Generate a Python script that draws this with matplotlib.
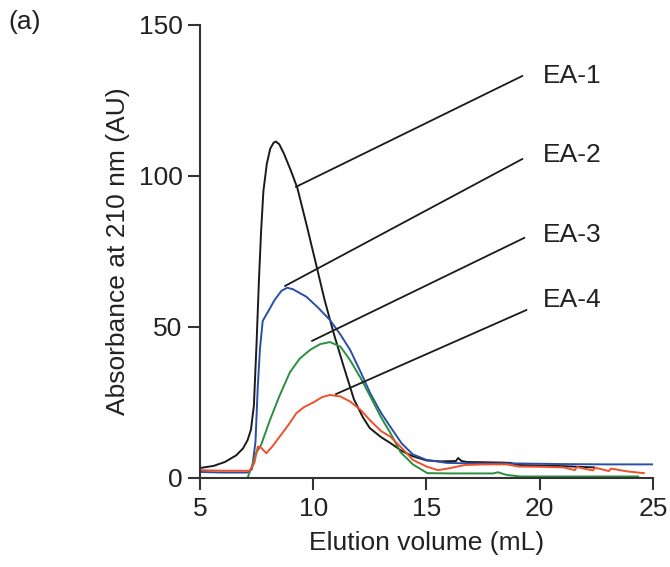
import matplotlib
matplotlib.use('Agg')
from matplotlib import pyplot as plt

plt.rcParams['font.family'] = ['Liberation Sans', 'DejaVu Sans']

# elution volume (mL) / absorbance (AU)
ea1_x = [5.0, 5.6, 6.1, 6.6, 6.9, 7.1, 7.25, 7.38, 7.5, 7.6, 7.7, 7.8, 7.95, 8.1, 8.25, 8.35, 8.5,
         8.7, 9.0, 9.3, 9.7, 10.15, 10.5, 10.9, 11.3, 11.8, 12.2, 12.5, 13.0, 13.4, 13.9, 14.4, 15.0,
         15.6, 16.3, 16.4, 16.55, 16.8, 17.6, 18.3, 18.7, 19.1, 20.1, 21.1, 22.4]
ea1_y = [3.3, 4.0, 5.3, 7.5, 9.8, 12.5, 16.0, 24.0, 45.0, 65.0, 82.0, 95.0, 104.0, 109.0, 111.0,
         111.4, 110.5, 107.5, 102.0, 96.0, 84.0, 70.0, 59.0, 48.0, 38.0, 26.0, 20.0, 16.5, 13.5,
         11.6, 9.0, 7.2, 5.8, 5.5, 5.6, 6.6, 5.6, 5.3, 5.2, 5.1, 5.0, 4.3, 4.1, 3.9, 3.5]

ea2_x = [5.0, 6.0, 7.1, 7.3, 7.45, 7.55, 7.65, 7.77, 8.0, 8.3, 8.6, 8.85, 9.1, 9.7, 10.2, 10.74,
         11.2, 11.63, 12.1, 12.52, 13.0, 13.4, 13.9, 14.4, 15.0, 15.9, 17.05, 19.05, 21.0, 23.0, 25.0]
ea2_y = [2.0, 1.8, 1.8, 3.0, 12.0, 30.0, 43.0, 52.0, 55.0, 59.0, 62.0, 63.0, 62.5, 60.0, 56.5, 52.3,
         47.5, 42.4, 35.0, 28.0, 21.5, 17.0, 11.5, 7.8, 6.0, 5.0, 4.8, 4.8, 4.6, 4.5, 4.5]

ea3_x = [7.1, 7.3, 7.48, 7.7, 8.08, 8.5, 8.97, 9.4, 9.86, 10.3, 10.74, 11.2, 11.63, 12.1, 12.52,
         13.0, 13.4, 13.86, 14.4, 15.04, 16.05, 17.05, 17.95, 18.15, 18.55, 19.15, 21.0, 23.0, 24.35]
ea3_y = [0.0, 4.0, 8.3, 11.0, 19.0, 27.0, 35.0, 39.5, 42.4, 44.3, 45.0, 43.5, 39.0, 33.0, 27.0,
         20.0, 15.0, 8.5, 4.5, 1.6, 1.5, 1.5, 1.5, 1.9, 1.0, 0.5, 0.5, 0.5, 0.5]

ea4_x = [5.0, 6.0, 7.19, 7.4, 7.55, 7.7, 7.93, 8.2, 8.52, 8.9, 9.26, 9.6, 10.0, 10.4, 10.74, 11.2,
         11.63, 12.1, 12.52, 13.0, 13.4, 13.9, 14.4, 15.0, 15.5, 16.0, 16.7, 17.55, 18.55, 19.05,
         20.05, 21.05, 21.55, 21.65, 22.35, 22.45, 23.05, 23.15, 23.85, 24.6]
ea4_y = [2.6, 2.4, 2.4, 5.0, 10.4, 10.0, 8.2, 10.5, 13.7, 17.5, 21.5, 23.5, 25.0, 26.8, 27.5, 27.0,
         25.3, 22.5, 19.0, 15.5, 13.7, 10.0, 6.0, 3.8, 2.6, 3.2, 4.3, 4.5, 4.5, 3.8, 3.7, 3.5, 2.6,
         3.6, 2.5, 3.4, 2.3, 3.1, 2.2, 1.6]

labels = ['EA-1', 'EA-2', 'EA-3', 'EA-4']
colors = ['#1a1a1a', '#2a4fa8', '#2a8f3e', '#f0502a']
# leader lines: start on the curve, end near the label
lead_start = [(9.24, 96.4), (8.76, 63.6), (9.95, 45.4), (11.01, 27.8)]
lead_end = [(19.23, 133.1), (19.23, 105.6), (19.32, 79.5), (19.41, 55.6)]
label_y = [133.0, 107.0, 80.5, 59.0]

fig = plt.figure(figsize=(6.7, 5.67), dpi=100)
ax = fig.add_axes([0.2985, 0.157, 0.676, 0.799])

for xs, ys, c in zip([ea1_x, ea2_x, ea3_x, ea4_x], [ea1_y, ea2_y, ea3_y, ea4_y], colors):
    ax.plot(xs, ys, color=c, lw=1.4)

for lab, s, e, ly in zip(labels, lead_start, lead_end, label_y):
    ax.plot([s[0], e[0]], [s[1], e[1]], color='#1a1a1a', lw=1.3)
    ax.text(20.16, ly, lab, fontsize=19, va='center', ha='left', color='#222222')

ax.set_xlim(5, 25)
ax.set_ylim(0, 150)
ax.set_xticks([5, 10, 15, 20, 25])
ax.set_yticks([0, 50, 100, 150])
ax.spines['top'].set_visible(False)
ax.spines['right'].set_visible(False)
for sp in ['left', 'bottom']:
    ax.spines[sp].set_linewidth(1.5)
    ax.spines[sp].set_color('#333333')
ax.tick_params(direction='out', length=8.5, width=1.5, labelsize=19, color='#333333',
               labelcolor='#222222')
ax.tick_params(axis='x', pad=5.5)
ax.tick_params(axis='y', pad=4)
ax.set_xlabel('Elution volume (mL)', fontsize=19, labelpad=7, color='#222222')
ax.set_ylabel('Absorbance at 210 nm (AU)', fontsize=19, labelpad=6, color='#222222')

fig.text(0.012, 0.962, '(a)', fontsize=19, va='center', color='#222222')

fig.savefig('out.png', dpi=100)
